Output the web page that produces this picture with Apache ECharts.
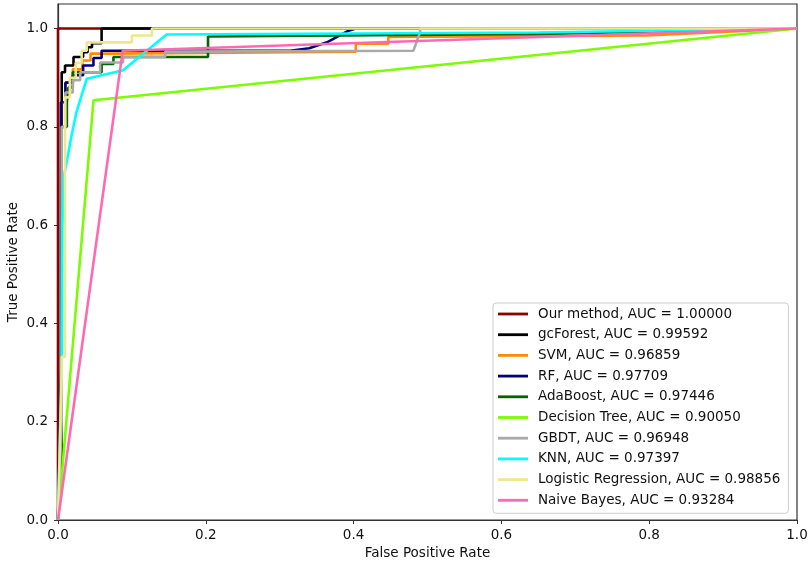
<!DOCTYPE html>
<html>
<head>
<meta charset="utf-8">
<title>ROC curves</title>
<script src="https://cdn.jsdelivr.net/npm/echarts@6/dist/echarts.min.js"></script>
<style>
  html, body { margin: 0; padding: 0; background: #fff; }
  #main { width: 809px; height: 564px; }
</style>
</head>
<body>
<div id="main"></div>
<script>
// names shown in the legend, in drawing order
const methodNames = [
  'Our method, AUC = 1.00000',
  'gcForest, AUC = 0.99592',
  'SVM, AUC = 0.96859',
  'RF, AUC = 0.97709',
  'AdaBoost, AUC = 0.97446',
  'Decision Tree, AUC = 0.90050',
  'GBDT, AUC = 0.96948',
  'KNN, AUC = 0.97397',
  'Logistic Regression, AUC = 0.98856',
  'Naive Bayes, AUC = 0.93284'
];

// ROC points [fpr, tpr]
const ourMethod = [[0, 0], [0, 1], [1, 1]];
const gcForest = [[0, 0], [0.005, 0.3], [0.005, 0.911], [0.0095, 0.911], [0.0095, 0.925],
  [0.021, 0.925], [0.021, 0.942], [0.034, 0.942], [0.034, 0.952], [0.04, 0.952], [0.04, 0.962],
  [0.046, 0.962], [0.046, 0.97], [0.059, 0.97], [0.059, 1], [1, 1]];
const svm = [[0, 0], [0.004, 0.1], [0.004, 0.85], [0.01, 0.85], [0.01, 0.89], [0.02, 0.89],
  [0.02, 0.917], [0.033, 0.917], [0.033, 0.935], [0.044, 0.935], [0.044, 0.949], [0.068, 0.949],
  [0.068, 0.953], [0.403, 0.953], [0.403, 0.969], [0.447, 0.969], [0.447, 0.983], [0.797, 0.986], [1, 1]];
const rf = [[0, 0], [0.004, 0.3], [0.004, 0.85], [0.01, 0.85], [0.01, 0.89], [0.02, 0.89],
  [0.02, 0.905], [0.034, 0.905], [0.034, 0.925], [0.048, 0.925], [0.048, 0.94], [0.059, 0.94],
  [0.059, 0.955], [0.314, 0.955], [0.34, 0.96], [0.364, 0.972], [0.38, 0.985], [0.392, 0.995],
  [0.403, 1], [1, 1]];
const adaBoost = [[0, 0], [0.005, 0.1], [0.005, 0.8], [0.012, 0.8], [0.012, 0.85], [0.014, 0.85],
  [0.014, 0.88], [0.02, 0.88], [0.02, 0.911], [0.059, 0.911], [0.059, 0.928], [0.075, 0.928],
  [0.075, 0.942], [0.203, 0.942], [0.203, 0.984], [0.651, 0.989], [1, 1]];
const decisionTree = [[0, 0], [0.048, 0.854], [1, 1]];
const gbdt = [[0, 0], [0.005, 0.2], [0.005, 0.8], [0.01, 0.8], [0.01, 0.87], [0.02, 0.87],
  [0.02, 0.895], [0.03, 0.895], [0.03, 0.911], [0.057, 0.911], [0.057, 0.931], [0.088, 0.931],
  [0.088, 0.942], [0.145, 0.942], [0.145, 0.953], [0.481, 0.955], [0.49, 0.993], [0.49, 1], [1, 1]];
const knn = [[0, 0], [0.003, 0.2], [0.005, 0.33], [0.006, 0.6], [0.008, 0.7], [0.012, 0.73],
  [0.018, 0.78], [0.025, 0.83], [0.034, 0.874], [0.039, 0.898], [0.088, 0.915], [0.147, 0.988],
  [0.65, 0.992], [1, 1]];
const logReg = [[0, 0], [0.005, 0.3], [0.005, 0.332], [0.0095, 0.332], [0.0095, 0.86], [0.016, 0.86],
  [0.016, 0.9], [0.024, 0.9], [0.024, 0.93], [0.032, 0.93], [0.032, 0.955], [0.039, 0.955],
  [0.039, 0.972], [0.1, 0.972], [0.1, 0.986], [0.127, 0.986], [0.127, 1], [1, 1]];
const naiveBayes = [[0, 0], [0.0876, 0.955], [1, 1]];

const curves = [ourMethod, gcForest, svm, rf, adaBoost, decisionTree, gbdt, knn, logReg, naiveBayes];

// tick labels
const xTicks = [0, 0.2, 0.4, 0.6, 0.8, 1.0];
const yTicks = [0, 0.2, 0.4, 0.6, 0.8, 1.0];

// matplotlib colour names
const colors = ['#8b0000', '#000000', '#ff8c00', '#000080', '#006400',
  '#7cfc00', '#a9a9a9', '#00ffff', '#f0e68c', '#ff69b4'];

const font = 'DejaVu Sans';
const lineIcon = 'path://M0,0 L30,0 L30,2.8 L0,2.8 Z';

const myChart = echarts.init(document.getElementById('main'));

const series = curves.map((pts, i) => ({
  name: methodNames[i],
  type: 'line',
  data: pts,
  symbol: 'none',
  showSymbol: false,
  lineStyle: { color: colors[i], width: 2.6 },
  itemStyle: { color: colors[i] },
}));

const axisCommon = {
  type: 'value',
  min: 0,
  splitLine: { show: false },
  axisLine: { show: true, onZero: false, lineStyle: { color: '#333', width: 1.2 } },
  axisTick: { show: true, length: 4, lineStyle: { color: '#333', width: 1 } },
  nameLocation: 'middle',
  nameMoveOverlap: false,
  nameTextStyle: { fontFamily: font, fontSize: 13.5, color: '#111' },
};

const option = {
  animation: false,
  backgroundColor: '#fff',
  grid: {
    left: 58, right: 12, top: 4, bottom: 44,
    outerBoundsMode: 'none',
    containLabel: false,
    show: true, borderColor: '#333', borderWidth: 1.2, backgroundColor: 'transparent',
  },
  xAxis: Object.assign({}, axisCommon, {
    max: 1,
    name: 'False Positive Rate',
    nameGap: 26,
    axisTick: Object.assign({}, axisCommon.axisTick, { customValues: xTicks }),
    axisLabel: {
      customValues: xTicks,
      margin: 8,
      fontFamily: font, fontSize: 13.5, color: '#111',
      formatter: v => v.toFixed(1),
    },
  }),
  yAxis: Object.assign({}, axisCommon, {
    max: 1.05,
    name: 'True Positive Rate',
    nameGap: 38,
    axisTick: Object.assign({}, axisCommon.axisTick, { customValues: yTicks }),
    axisLabel: {
      customValues: yTicks,
      margin: 10,
      fontFamily: font, fontSize: 13.5, color: '#111',
      formatter: v => v.toFixed(1),
    },
  }),
  legend: {
    orient: 'vertical',
    left: 493,
    top: 303,
    padding: [4, 8, 6, 5],
    itemWidth: 30,
    itemHeight: 14,
    itemGap: 6.7,
    backgroundColor: '#fff',
    borderColor: '#ccc',
    borderWidth: 1,
    borderRadius: 3,
    textStyle: { fontFamily: font, fontSize: 13.5, color: '#111', padding: [0, 0, 0, 5] },
    data: methodNames.map(n => ({ name: n, icon: lineIcon })),
  },
  series,
};

myChart.setOption(option);
</script>
</body>
</html>
